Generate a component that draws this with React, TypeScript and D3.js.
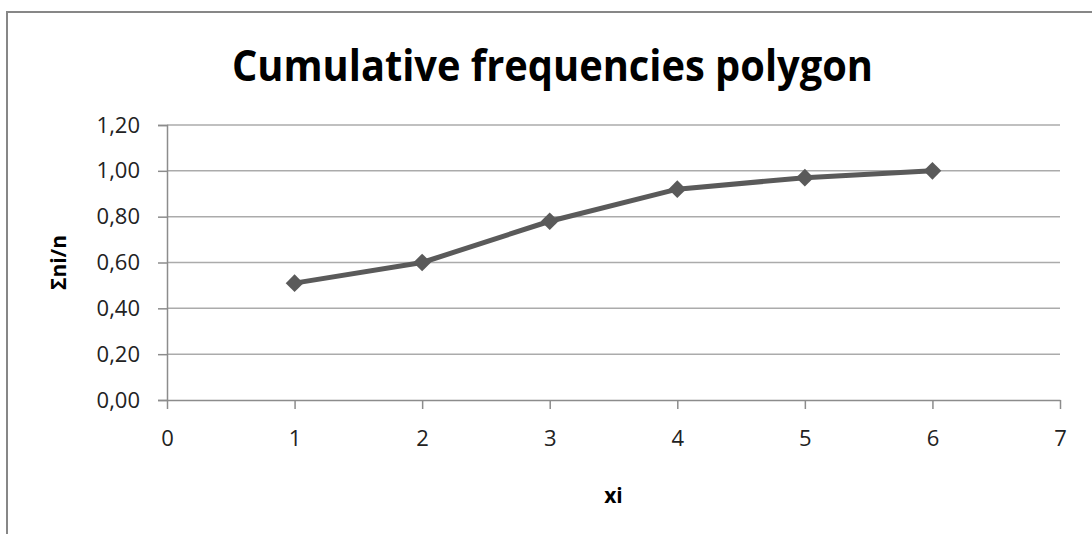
import React, { useRef, useEffect } from 'react';
import * as d3 from 'd3';

const xValues = [1, 2, 3, 4, 5, 6];
const cumFreq = [0.51, 0.6, 0.78, 0.92, 0.97, 1.0];
const xTicks = [0, 1, 2, 3, 4, 5, 6, 7];
const yTicks = [0, 0.2, 0.4, 0.6, 0.8, 1.0, 1.2];

const W = 1092;
const H = 534;
const FONT = "'Open Sans', 'DejaVu Sans', sans-serif";

export default function App() {
  const ref = useRef<SVGSVGElement>(null);

  useEffect(() => {
    if (!ref.current) return;
    drawChart(ref.current);
  }, []);

  return (
    <svg
      ref={ref}
      width={W}
      height={H}
      style={{ position: 'absolute', left: 0, top: 0, background: '#fff' }}
    />
  );
}

function drawChart(el: SVGSVGElement) {
  const svg = d3.select(el);
  svg.selectAll('*').remove();

  const plot = { left: 167, right: 1060, top: 125, bottom: 400 };

  const x = d3.scaleLinear().domain([0, 7]).range([plot.left, plot.right]);
  const y = d3.scaleLinear().domain([0, 1.2]).range([plot.bottom, plot.top]);

  // outer frame (runs off the right and bottom edges)
  svg.append('rect')
    .attr('x', 7)
    .attr('y', 12)
    .attr('width', 1200)
    .attr('height', 700)
    .attr('fill', 'none')
    .attr('stroke', '#878787')
    .attr('stroke-width', 2);

  // title
  svg.append('text')
    .attr('x', 232)
    .attr('y', 81)
    .attr('textLength', 641)
    .attr('lengthAdjust', 'spacingAndGlyphs')
    .attr('font-family', FONT)
    .attr('font-weight', 700)
    .attr('font-size', 43)
    .attr('fill', '#000')
    .text('Cumulative frequencies polygon');

  // horizontal gridlines
  svg.append('g')
    .selectAll('line')
    .data(yTicks.filter((d) => d > 0))
    .join('line')
    .attr('x1', plot.left)
    .attr('x2', plot.right)
    .attr('y1', (d) => y(d))
    .attr('y2', (d) => y(d))
    .attr('stroke', '#ababab')
    .attr('stroke-width', 1.5);

  // y axis
  const yAxis = svg.append('g')
    .attr('transform', `translate(${plot.left},0)`)
    .call(
      d3.axisLeft(y)
        .tickValues(yTicks)
        .tickSize(9)
        .tickPadding(18)
        .tickFormat((d) => d3.format('.2f')(d as number).replace('.', ','))
    );
  yAxis.select('.domain').attr('stroke', '#8c8c8c').attr('stroke-width', 1.5);
  yAxis.selectAll('.tick line').attr('stroke', '#8c8c8c').attr('stroke-width', 1.5);
  yAxis.selectAll('.tick text')
    .attr('font-family', FONT)
    .attr('font-size', 22)
    .attr('fill', '#222');

  // x axis
  const xAxis = svg.append('g')
    .attr('transform', `translate(0,${plot.bottom})`)
    .call(
      d3.axisBottom(x)
        .tickValues(xTicks)
        .tickSizeInner(9)
        .tickSizeOuter(0)
        .tickPadding(21)
        .tickFormat(d3.format('d'))
    );
  xAxis.select('.domain').attr('stroke', '#8c8c8c').attr('stroke-width', 1.5);
  xAxis.selectAll('.tick line').attr('stroke', '#8c8c8c').attr('stroke-width', 1.5);
  xAxis.selectAll('.tick text')
    .attr('font-family', FONT)
    .attr('font-size', 22)
    .attr('fill', '#222');

  // axis titles
  svg.append('text')
    .attr('x', (plot.left + plot.right) / 2)
    .attr('y', 503)
    .attr('text-anchor', 'middle')
    .attr('font-family', FONT)
    .attr('font-weight', 700)
    .attr('font-size', 21)
    .text('xi');

  svg.append('text')
    .attr('transform', `translate(66,${(plot.top + plot.bottom) / 2}) rotate(-90)`)
    .attr('text-anchor', 'middle')
    .attr('font-family', FONT)
    .attr('font-weight', 700)
    .attr('font-size', 21)
    .text('Σni/n');

  const data = xValues.map((v, i) => ({ x: v, y: cumFreq[i] }));

  // series line
  const line = d3.line<{ x: number; y: number }>()
    .x((d) => x(d.x))
    .y((d) => y(d.y));

  svg.append('path')
    .datum(data)
    .attr('d', line)
    .attr('fill', 'none')
    .attr('stroke', '#5a5a5a')
    .attr('stroke-width', 5)
    .attr('stroke-linejoin', 'round');

  // diamond markers
  const diamond = d3.symbol().type(d3.symbolDiamond2).size(200);
  svg.append('g')
    .selectAll('path')
    .data(data)
    .join('path')
    .attr('transform', (d) => `translate(${x(d.x)},${y(d.y)})`)
    .attr('d', diamond)
    .attr('fill', '#5a5a5a');
}
